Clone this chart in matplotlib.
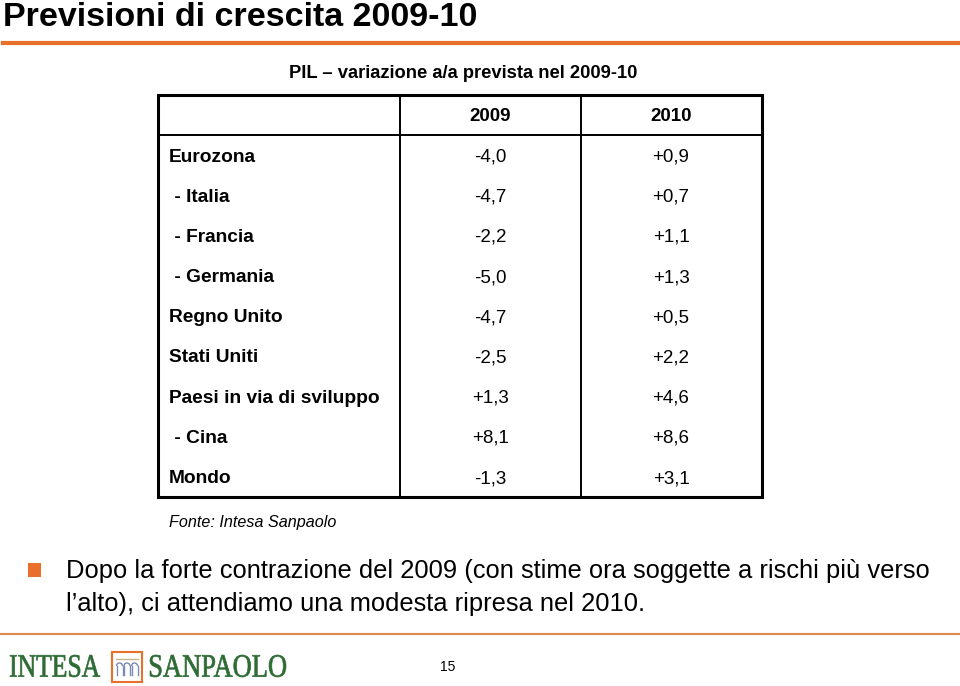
import matplotlib.pyplot as plt
from matplotlib.patches import Rectangle, PathPatch, Arc
from matplotlib.textpath import TextPath
from matplotlib.font_manager import FontProperties
from matplotlib.transforms import Affine2D

plt.rcParams['font.family'] = ['Liberation Sans', 'DejaVu Sans']

# Dati della tabella
paesi = ["Eurozona", " - Italia", " - Francia", " - Germania", "Regno Unito",
         "Stati Uniti", "Paesi in via di sviluppo", " - Cina", "Mondo"]
pil_2009 = [-4.0, -4.7, -2.2, -5.0, -4.7, -2.5, 1.3, 8.1, -1.3]
pil_2010 = [0.9, 0.7, 1.1, 1.3, 0.5, 2.2, 4.6, 8.6, 3.1]
anni = ["2009", "2010"]

titolo = "Previsioni di crescita 2009-10"
sottotitolo = "PIL \u2013 variazione a/a prevista nel 2009-10"
fonte = "Fonte: Intesa Sanpaolo"
nota = ["Dopo la forte contrazione del 2009 (con stime ora soggette a rischi più verso",
        "l\u2019alto), ci attendiamo una modesta ripresa nel 2010."]

arancio = "#E8702A"
verde = "#2E6B34"


def fmt(v):
    if v < 0:
        return "-" + f"{abs(v):.1f}".replace(".", ",")
    return "+" + f"{v:.1f}".replace(".", ",")


fig = plt.figure(figsize=(9.6, 6.86), dpi=100)
ax = fig.add_axes([0, 0, 1, 1])
ax.set_xlim(0, 960)
ax.set_ylim(686, 0)
ax.axis("off")

# titolo e linea arancione
ax.text(3, 26.5, titolo, fontsize=24.5, fontweight="bold", va="baseline", ha="left")
ax.plot([3, 960], [43, 43], color=arancio, lw=3)
ax.text(463, 78, sottotitolo, fontsize=13.2, fontweight="bold", va="baseline", ha="center")

# tabella
x0, x1 = 158, 762
y0, y1 = 95, 497
col_x = [400, 581]
hdr_y = 135
ax.add_patch(Rectangle((x0, y0), x1 - x0, y1 - y0, fill=False, lw=2.2, ec="black"))
ax.plot([x0, x1], [hdr_y, hdr_y], color="black", lw=1.4)
for cx in col_x:
    ax.plot([cx, cx], [y0, y1], color="black", lw=1.4)

centri = [490.5, 671]
for c, a in zip(centri, anni):
    ax.text(c, 121, a, fontsize=13.5, fontweight="bold", ha="center", va="baseline")

row_y0, row_dy = 161.5, 40.2
for i, (p, a, b) in enumerate(zip(paesi, pil_2009, pil_2010)):
    y = row_y0 + i * row_dy
    ax.text(169, y, p, fontsize=13.8, fontweight="bold", ha="left", va="baseline")
    ax.text(centri[0], y, fmt(a), fontsize=13.5, ha="center", va="baseline")
    ax.text(centri[1], y, fmt(b), fontsize=13.5, ha="center", va="baseline")

ax.text(169, 527.5, fonte, fontsize=11.6, style="italic", ha="left", va="baseline")

# nota con quadratino arancione
ax.add_patch(Rectangle((28, 563), 13, 14, color=arancio, lw=0))
ax.text(66, 578, nota[0], fontsize=18.4, ha="left", va="baseline")
ax.text(66, 611, nota[1], fontsize=18.4, ha="left", va="baseline")

# linea inferiore
ax.plot([0, 960], [634, 634], color="#E08A4A", lw=1.5)


# logo
def scritta(s, xa, xb, ytop, ybot):
    tp = TextPath((0, 0), s, size=1, prop=FontProperties(family="Liberation Serif"))
    bb = tp.get_extents()
    sx = (xb - xa) / bb.width
    sy = (ybot - ytop) / bb.height
    tr = Affine2D().translate(-bb.x0, -bb.y0).scale(sx, -sy).translate(xa, ybot)
    ax.add_patch(PathPatch(tr.transform_path(tp), fc=verde, ec=verde, lw=0.5))


scritta("INTESA", 10, 100, 655, 677)
scritta("SANPAOLO", 150, 286, 655, 677)
ax.add_patch(Rectangle((112, 652), 30, 30, fill=False, ec=arancio, lw=1.5))
ax.plot([116, 138], [659, 659], color="#C8B48A", lw=1)
for k in range(3):
    cx = 119.5 + k * 7.5
    ax.add_patch(Arc((cx, 666), 6, 6, theta1=180, theta2=360, color="#7A8AB0", lw=1))
    ax.plot([cx - 3, cx - 3], [666, 675], color="#7A8AB0", lw=1)
    ax.plot([cx + 3, cx + 3], [666, 675], color="#7A8AB0", lw=1)

ax.text(448, 671, "15", fontsize=10, ha="center", va="baseline")

fig.savefig("out.png", dpi=100)
